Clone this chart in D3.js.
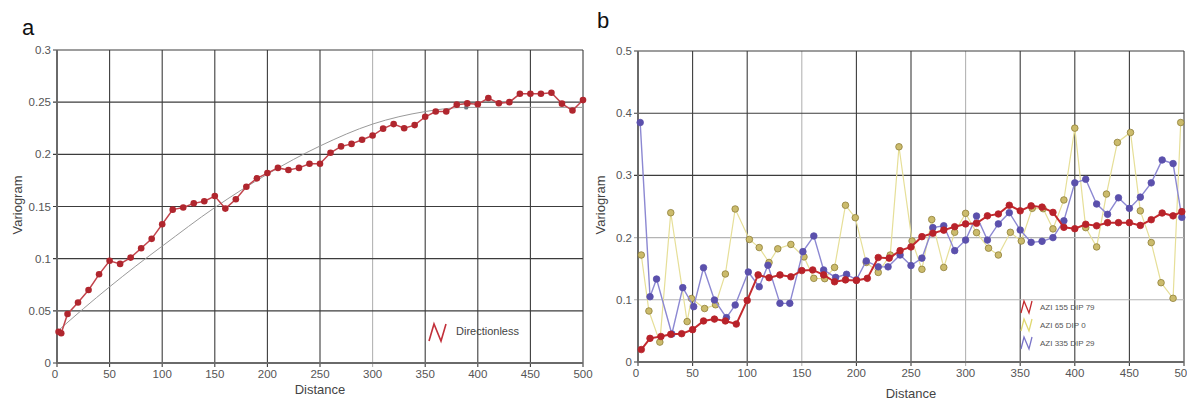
<!DOCTYPE html>
<html>
<head>
<meta charset="utf-8">
<script src="https://cdn.jsdelivr.net/npm/d3@7"></script>
<style>
  body { margin: 0; background: #fff; }
  svg { display: block; font-family: "Liberation Sans", Arial, sans-serif; }
</style>
</head>
<body>
<svg id="chart" width="1187" height="401"></svg>
<script>
// panel a : directionless variogram
const aDist = [1.5, 4, 10, 20, 30, 40, 50, 60, 70, 80, 90, 100, 110, 120, 130, 140, 150, 160, 170, 180, 190,
  200, 210, 220, 230, 240, 250, 260, 270, 280, 290, 300, 310, 320, 330, 340, 350, 360, 370, 380, 390,
  400, 410, 420, 430, 440, 450, 460, 470, 480, 490, 500];
const aVario = [0.030, 0.0285, 0.047, 0.058, 0.070, 0.085, 0.098, 0.095, 0.101, 0.110, 0.119, 0.133, 0.147, 0.149,
  0.153, 0.155, 0.160, 0.148, 0.157, 0.169, 0.177, 0.182, 0.187, 0.185, 0.187, 0.191, 0.191, 0.2015, 0.2076,
  0.210, 0.214, 0.218, 0.2246, 0.229, 0.225, 0.228, 0.236, 0.241, 0.241, 0.2476, 0.2488, 0.248, 0.254, 0.249,
  0.250, 0.258, 0.258, 0.258, 0.259, 0.2486, 0.242, 0.252];
// fitted model curve
const modelDist = [0, 25, 50, 75, 100, 150, 200, 250, 300, 350, 389, 500];
const modelVario = [0.030, 0.052, 0.073, 0.093, 0.112, 0.149, 0.181, 0.208, 0.229, 0.241, 0.245, 0.245];
const rangeMark = [389, 0.245];

// panel b : directional variograms
const redDist = [3, 11, 21, 30, 40, 50, 60, 70, 80, 90, 100, 110, 120, 130, 140, 150, 160, 170, 180, 190, 200,
  210, 220, 230, 240, 250, 260, 270, 280, 290, 300, 310, 320, 330, 340, 350, 360, 370, 380, 390, 400,
  410, 420, 430, 440, 450, 460, 470, 480, 490, 498];
const redVario = [0.020, 0.038, 0.041, 0.0445, 0.0455, 0.052, 0.066, 0.069, 0.066, 0.061, 0.099, 0.140, 0.1355,
  0.140, 0.137, 0.147, 0.148, 0.140, 0.129, 0.132, 0.131, 0.1345, 0.168, 0.167, 0.179, 0.185, 0.2015, 0.207,
  0.212, 0.2175, 0.222, 0.223, 0.235, 0.238, 0.252, 0.243, 0.251, 0.249, 0.2405, 0.2165, 0.2143, 0.2214,
  0.219, 0.224, 0.224, 0.224, 0.2196, 0.2288, 0.2395, 0.235, 0.2417];

const yelDist = [3, 10, 20, 30, 45, 49, 61, 71, 80, 89, 102, 111, 120, 128, 140, 152, 161, 171, 180, 190, 199,
  209, 220, 231, 239, 251, 260, 269, 280, 290, 300, 310, 321, 330, 341, 351, 361, 371, 380, 390, 400,
  410, 420, 429, 439, 451, 460, 470, 479, 490, 497];
const yelVario = [0.172, 0.082, 0.032, 0.240, 0.065, 0.102, 0.086, 0.092, 0.1415, 0.246, 0.197, 0.184, 0.160,
  0.182, 0.189, 0.169, 0.1345, 0.134, 0.152, 0.252, 0.232, 0.160, 0.144, 0.172, 0.346, 0.1945, 0.149, 0.229,
  0.152, 0.2085, 0.239, 0.208, 0.183, 0.172, 0.2085, 0.1945, 0.247, 0.2465, 0.214, 0.2605, 0.376, 0.216,
  0.185, 0.270, 0.353, 0.369, 0.243, 0.192, 0.1275, 0.1024, 0.385];

const bluDist = [2, 11, 17, 31, 41, 51, 60, 70, 81, 89, 101, 111, 119, 130, 139, 151, 161, 170, 181, 191, 200,
  209, 220, 229, 240, 250, 260, 270, 280, 290, 300, 310, 320, 330, 340, 350, 360, 370, 380, 390, 400,
  410, 420, 430, 440, 450, 460, 470, 480, 490, 498];
const bluVario = [0.385, 0.105, 0.1334, 0.045, 0.1195, 0.089, 0.1516, 0.0997, 0.0713, 0.0916, 0.1447, 0.121,
  0.1555, 0.0943, 0.0943, 0.1774, 0.2026, 0.148, 0.136, 0.141, 0.132, 0.1624, 0.153, 0.153, 0.172, 0.155,
  0.167, 0.216, 0.219, 0.179, 0.196, 0.2347, 0.196, 0.222, 0.240, 0.2122, 0.1924, 0.194, 0.200, 0.227,
  0.288, 0.2937, 0.254, 0.2374, 0.264, 0.247, 0.265, 0.288, 0.3248, 0.319, 0.2326];

const xTicks = [0, 50, 100, 150, 200, 250, 300, 350, 400, 450, 500];
const yTicksA = [0, 0.05, 0.1, 0.15, 0.2, 0.25, 0.3];
const yTicksB = [0, 0.1, 0.2, 0.3, 0.4, 0.5];
const legendB = ["AZI 155 DIP 79", "AZI 65 DIP 0", "AZI 335 DIP 29"];

const svg = d3.select('#chart');

function zip(xs, ys) { return xs.map((x, i) => [x, ys[i]]); }

function panel(opt) {
  const x = d3.scaleLinear().domain([0, 500]).range(opt.xr);
  const y = d3.scaleLinear().domain(opt.ydom).range(opt.yr);
  const g = svg.append('g');

  // grid
  g.selectAll('.vg').data(xTicks).enter().append('line')
    .attr('x1', d => x(d)).attr('x2', d => x(d))
    .attr('y1', y.range()[1]).attr('y2', y.range()[0] + 4)
    .attr('stroke', d => opt.lightX.includes(d) ? '#b4b4b4' : '#3c3c3c')
    .attr('stroke-width', 1.1);
  g.selectAll('.hg').data(opt.yTicks).enter().append('line')
    .attr('x1', x.range()[0] - 4).attr('x2', x.range()[1])
    .attr('y1', d => y(d)).attr('y2', d => y(d))
    .attr('stroke', d => opt.lightY.includes(d) ? '#b4b4b4' : '#3c3c3c')
    .attr('stroke-width', 1.1);

  // axes lines
  g.append('line').attr('x1', x(0)).attr('x2', x(0)).attr('y1', y.range()[1]).attr('y2', y.range()[0])
    .attr('stroke', '#6a6a6a').attr('stroke-width', 2);
  g.append('line').attr('x1', x(0)).attr('x2', x(500)).attr('y1', y.range()[0]).attr('y2', y.range()[0])
    .attr('stroke', '#6a6a6a').attr('stroke-width', 2);

  // tick labels
  g.selectAll('.yl').data(opt.yTicks).enter().append('text')
    .attr('x', x(0) - 6).attr('y', d => y(d) + 4)
    .attr('text-anchor', 'end').attr('font-size', 11.5).attr('fill', '#555')
    .text(d => d);
  g.selectAll('.xl').data(xTicks).enter().append('text')
    .attr('x', d => x(d) + (d === 0 ? -2 : 0)).attr('y', y(0) + 15)
    .attr('text-anchor', 'middle').attr('font-size', 11.5).attr('fill', '#555')
    .text(d => d);

  // axis titles
  g.append('text').attr('x', (x(0) + x(500)) / 2).attr('y', opt.xTitleY)
    .attr('text-anchor', 'middle').attr('font-size', 13).attr('fill', '#444').text('Distance');
  g.append('text').attr('transform', `translate(${opt.yTitleX},205) rotate(-90)`)
    .attr('text-anchor', 'middle').attr('font-size', 13).attr('fill', '#444').text('Variogram');

  // panel letter
  g.append('text').attr('x', opt.letterX).attr('y', opt.letterY)
    .attr('font-size', 22).attr('fill', '#111').text(opt.letter);

  return { x, y, g };
}

// ---------- panel a ----------
const A = panel({
  xr: [57, 583], ydom: [0, 0.3], yr: [363, 50], yTicks: yTicksA,
  lightX: [300], lightY: [], xTitleY: 394, yTitleX: 22,
  letter: 'a', letterX: 22, letterY: 35
});

A.g.append('path')
  .datum(zip(modelDist, modelVario))
  .attr('fill', 'none').attr('stroke', '#9a9a9a').attr('stroke-width', 1)
  .attr('d', d3.line().x(d => A.x(d[0])).y(d => A.y(d[1])).curve(d3.curveMonotoneX));

A.g.append('circle').attr('cx', A.x(rangeMark[0])).attr('cy', A.y(rangeMark[1])).attr('r', 2.2)
  .attr('fill', '#6f7780');

const aPts = zip(aDist, aVario);
A.g.append('path').datum(aPts)
  .attr('fill', 'none').attr('stroke', '#c2444c').attr('stroke-width', 1.5)
  .attr('d', d3.line().x(d => A.x(d[0])).y(d => A.y(d[1])));
A.g.selectAll('.pa').data(aPts).enter().append('circle')
  .attr('cx', d => A.x(d[0])).attr('cy', d => A.y(d[1])).attr('r', 3.3)
  .attr('fill', '#b0262e');

// legend a
const la = A.g.append('g').attr('transform', 'translate(428,324)');
la.append('path').attr('d', 'M1,17 L6,0 L13,17 L18,0')
  .attr('fill', 'none').attr('stroke', '#c2303a').attr('stroke-width', 1.6);
la.append('text').attr('x', 28).attr('y', 11).attr('font-size', 11).attr('fill', '#444').text('Directionless');

// ---------- panel b ----------
const B = panel({
  xr: [638, 1184], ydom: [0, 0.5], yr: [362, 51], yTicks: yTicksB,
  lightX: [150, 300], lightY: [0.1, 0.2], xTitleY: 398, yTitleX: 605,
  letter: 'b', letterX: 597, letterY: 28
});

const series = [
  { pts: zip(yelDist, yelVario), line: '#e6df98', lw: 1.2, fill: '#cbbb6c', stroke: '#8f7f38' },
  { pts: zip(bluDist, bluVario), line: '#8c88d2', lw: 1.4, fill: '#5b50ac', stroke: '#5b50ac' },
  { pts: zip(redDist, redVario), line: '#c42a2e', lw: 2, fill: '#b8222a', stroke: '#b8222a' }
];
series.forEach(s => {
  B.g.append('path').datum(s.pts)
    .attr('fill', 'none').attr('stroke', s.line).attr('stroke-width', s.lw)
    .attr('d', d3.line().x(d => B.x(d[0])).y(d => B.y(d[1])));
  B.g.selectAll(null).data(s.pts).enter().append('circle')
    .attr('cx', d => B.x(d[0])).attr('cy', d => B.y(d[1])).attr('r', 3.3)
    .attr('fill', s.fill).attr('stroke', s.stroke).attr('stroke-width', 0.8);
});

// legend b
const legColors = ['#c42a2e', '#e0d870', '#7a74c8'];
const lb = B.g.append('g').attr('transform', 'translate(1021,300)');
legendB.forEach((t, i) => {
  const row = lb.append('g').attr('transform', `translate(0,${i * 18})`);
  row.append('path').attr('d', 'M0,13 L3,1 L8,13 L11,1')
    .attr('fill', 'none').attr('stroke', legColors[i]).attr('stroke-width', 1.3);
  row.append('text').attr('x', 19).attr('y', 10).attr('font-size', 8).attr('fill', '#555').text(t);
});
</script>
</body>
</html>
